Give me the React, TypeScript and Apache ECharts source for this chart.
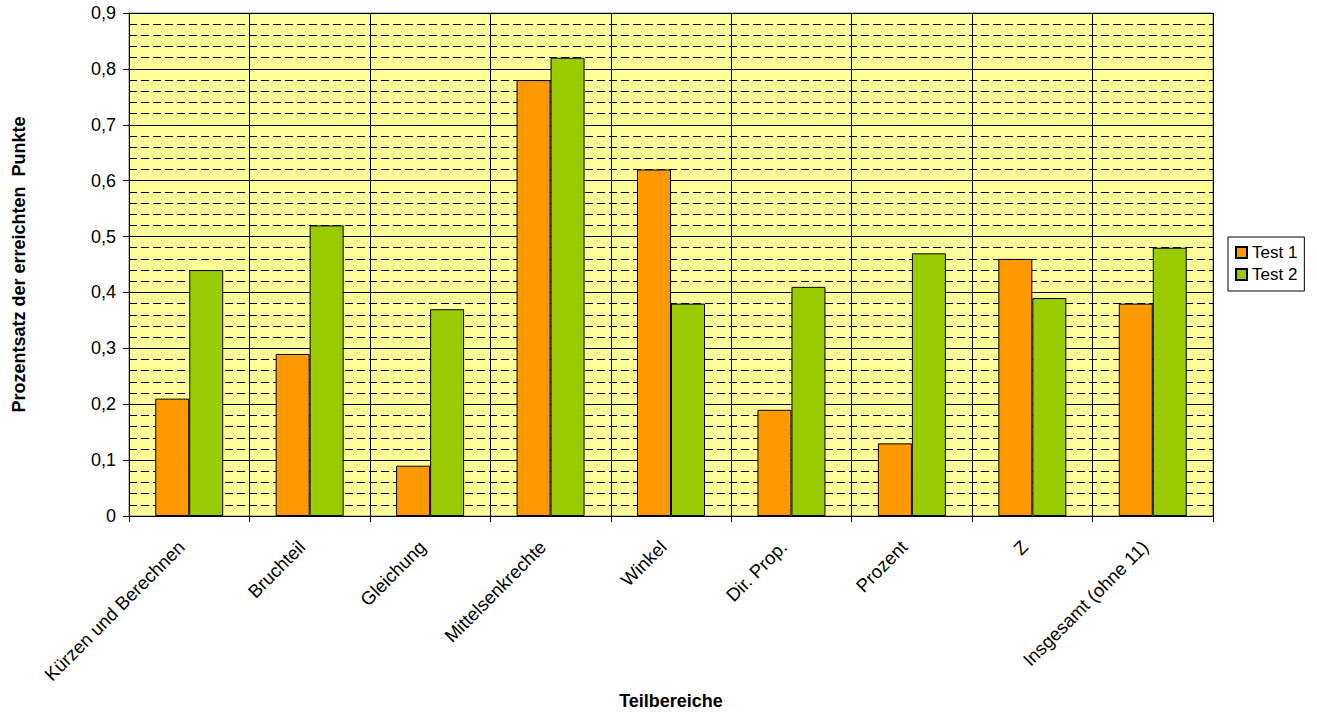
import React, { useEffect, useRef } from "react";
import * as echarts from "echarts";

const categories = [
  "Kürzen und Berechnen",
  "Bruchteil",
  "Gleichung",
  "Mittelsenkrechte",
  "Winkel",
  "Dir. Prop.",
  "Prozent",
  "Z",
  "Insgesamt (ohne 11)",
];
const test1 = [0.21, 0.29, 0.09, 0.78, 0.62, 0.19, 0.13, 0.46, 0.38];
const test2 = [0.44, 0.52, 0.37, 0.82, 0.38, 0.41, 0.47, 0.39, 0.48];

const FONT = "Liberation Sans, Arial, sans-serif";

export default function App() {
  const ref = useRef<HTMLDivElement>(null);
  useEffect(() => {
    const chart = echarts.init(ref.current!, null, { renderer: "svg" });
    chart.setOption({
      animation: false,
      backgroundColor: "#ffffff",
      textStyle: { fontFamily: FONT },
      grid: {
        left: 129,
        right: 104,
        top: 13,
        bottom: 199,
        show: true,
        backgroundColor: "#FFFF99",
        borderColor: "#808080",
        borderWidth: 1,
      },
      legend: {
        orient: "vertical",
        left: 1228,
        top: 237,
        padding: [7, 7, 8, 7],
        itemGap: 5,
        borderColor: "#000",
        borderWidth: 1,
        backgroundColor: "#fff",
        itemWidth: 11,
        itemHeight: 11,
        icon: "rect",
        textStyle: { fontFamily: FONT, fontSize: 17, color: "#000", lineHeight: 17 },
        data: ["Test 1", "Test 2"],
      },
      xAxis: {
        type: "category",
        data: categories,
        name: "Teilbereiche",
        nameLocation: "middle",
        nameGap: 176,
        nameTextStyle: { fontFamily: FONT, fontSize: 18, fontWeight: "bold", color: "#000" },
        axisLine: { lineStyle: { color: "#000", width: 1 } },
        axisTick: { show: true, length: 6, lineStyle: { color: "#000" } },
        axisLabel: {
          rotate: 45,
          interval: 0,
          fontFamily: FONT,
          fontSize: 18.5,
          color: "#000",
          margin: 20,
          padding: [0, 11, 0, 0],
        },
        splitLine: { show: true, lineStyle: { color: "#000", width: 1 } },
      },
      yAxis: {
        type: "value",
        min: 0,
        max: 0.9,
        interval: 0.1,
        name: "Prozentsatz der erreichten  Punkte",
        nameLocation: "middle",
        nameGap: 101,
        nameTextStyle: { fontFamily: FONT, fontSize: 18, fontWeight: "bold", color: "#000" },
        axisLine: { show: true, lineStyle: { color: "#000", width: 1 } },
        axisTick: { show: true, length: 6, lineStyle: { color: "#000" } },
        axisLabel: {
          fontFamily: FONT,
          fontSize: 18,
          color: "#000",
          margin: 13,
          formatter: (v: number) => (Math.round(v * 10) / 10).toString().replace(".", ","),
        },
        splitLine: { show: true, lineStyle: { color: "#000", width: 1 } },
        minorTick: { show: false, splitNumber: 5 },
        minorSplitLine: {
          show: true,
          lineStyle: { color: "#000", width: 1, type: [8, 4] },
        },
      },
      series: [
        {
          name: "Test 1",
          type: "bar",
          data: test1,
          barWidth: 34,
          barGap: "0%",
          itemStyle: { color: "#FF9900", borderColor: "#000", borderWidth: 1 },
        },
        {
          name: "Test 2",
          type: "bar",
          data: test2,
          barWidth: 34,
          barGap: "0%",
          itemStyle: { color: "#99CC00", borderColor: "#000", borderWidth: 1 },
        },
      ],
    });
    return () => chart.dispose();
  }, []);
  return (
    <div
      ref={ref}
      style={{ position: "absolute", left: 0, top: 0, width: 1317, height: 715 }}
    />
  );
}
